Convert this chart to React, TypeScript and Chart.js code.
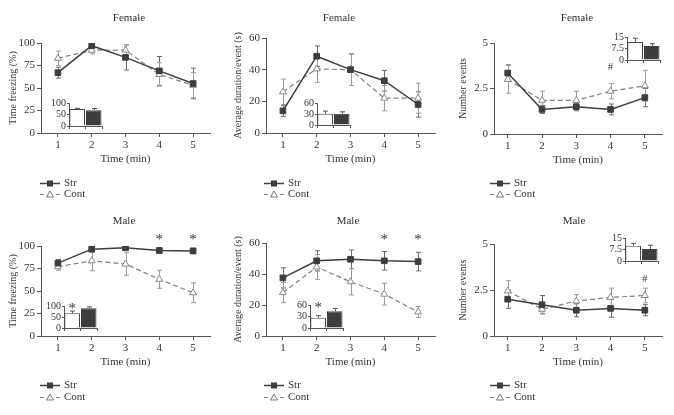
import React, { useEffect, useRef } from "react";
import { Chart, registerables } from "chart.js";
Chart.register(...registerables);

const FONT = "'Liberation Serif', 'Times New Roman', serif";
const TEXT = "#333";
const AXIS = "#555";
const STR_COLOR = "#3d3d3d";
const CONT_COLOR = "#808080";

const minutes = [1, 2, 3, 4, 5];
const groupLabels = ["Cont", "Str"];
const seriesNames = ["Str", "Cont"];
const xTitle = "Time (min)";

// Female – time freezing (%)
const femFreezeStr = [67, 97, 84, 69, 55];
const femFreezeStrErr = [6, 2, 14, 16, 17];
const femFreezeCont = [83, 92, 92, 65, 53];
const femFreezeContErr = [8, 4, 6, 13, 14];
const femFreezeBar = [74, 68];
const femFreezeBarErr = [3, 8];

// Female – average duration/event (s)
const femDurStr = [14, 48.5, 40, 33, 18];
const femDurStrErr = [3.5, 6.5, 10, 6.5, 8];
const femDurCont = [26, 40.5, 40, 22, 22];
const femDurContErr = [8, 8.5, 10, 8, 9.5];
const femDurBar = [31, 31];
const femDurBarErr = [7, 5];

// Female – number events
const femEvStr = [3.35, 1.35, 1.5, 1.35, 2.0];
const femEvStrErr = [0.45, 0.22, 0.22, 0.3, 0.5];
const femEvCont = [3.0, 1.85, 1.85, 2.35, 2.65];
const femEvContErr = [0.76, 0.5, 0.5, 0.42, 0.85];
const femEvBar = [11.7, 9.1];
const femEvBarErr = [2.5, 1.5];

// Male – time freezing (%)
const maleFreezeStr = [81, 96.5, 98, 95, 94.5];
const maleFreezeStrErr = [4, 3, 1.5, 3, 3];
const maleFreezeCont = [77, 83.5, 80, 63, 48];
const maleFreezeContErr = [4, 11, 12.5, 10, 11];
const maleFreezeBar = [67, 90];
const maleFreezeBarErr = [10, 6];

// Male – average duration/event (s)
const maleDurStr = [37.5, 48.5, 49.5, 48.5, 48];
const maleDurStrErr = [6.5, 6.5, 6, 6, 6];
const maleDurCont = [28, 44.5, 35, 27, 15.5];
const maleDurContErr = [6.5, 8, 8.5, 7, 3.5];
const maleDurBar = [27, 44];
const maleDurBarErr = [5, 7];

// Male – number events
const maleEvStr = [2.0, 1.7, 1.4, 1.5, 1.4];
const maleEvStrErr = [0.5, 0.5, 0.35, 0.48, 0.3];
const maleEvCont = [2.45, 1.45, 1.9, 2.1, 2.2];
const maleEvContErr = [0.55, 0.22, 0.35, 0.5, 0.4];
const maleEvBar = [10, 7.8];
const maleEvBarErr = [1.5, 2.5];

type Mark = { x: number; y: number; text: string };

interface PanelCfg {
  title: string; yTitle: string; yMax: number; yStep: number;
  str: number[]; strErr: number[]; cont: number[]; contErr: number[];
  marks: Mark[];
  bar: number[]; barErr: number[]; barMax: number; barStep: number; barMarks: Mark[];
  L: number; T: number; W: number; H: number;
  left: number; right: number; top: number; bottom: number; xMin: number;
  titleX: number; titleY: number; legX: number; legY: number[];
  inset: { x: number; top: number; bottom: number };
}

const panels: PanelCfg[] = [
  {
    title: "Female", yTitle: "Time freezing (%)", yMax: 100, yStep: 25,
    str: femFreezeStr, strErr: femFreezeStrErr, cont: femFreezeCont, contErr: femFreezeContErr,
    marks: [], bar: femFreezeBar, barErr: femFreezeBarErr, barMax: 100, barStep: 50, barMarks: [],
    L: 0, T: 0, W: 225, H: 200, left: 41, right: 210, top: 43, bottom: 133, xMin: 0.5,
    titleX: 129, titleY: 18, legX: 40, legY: [183, 194],
    inset: { x: 69, top: 103, bottom: 126 },
  },
  {
    title: "Female", yTitle: "Average duration/event (s)", yMax: 60, yStep: 20,
    str: femDurStr, strErr: femDurStrErr, cont: femDurCont, contErr: femDurContErr,
    marks: [], bar: femDurBar, barErr: femDurBarErr, barMax: 60, barStep: 30, barMarks: [],
    L: 225, T: 0, W: 225, H: 200, left: 41, right: 210, top: 38, bottom: 133, xMin: 0.5,
    titleX: 114, titleY: 18, legX: 39, legY: [183, 194],
    inset: { x: 317, top: 103, bottom: 125 },
  },
  {
    title: "Female", yTitle: "Number events", yMax: 5, yStep: 2.5,
    str: femEvStr, strErr: femEvStrErr, cont: femEvCont, contErr: femEvContErr,
    marks: [{ x: 4, y: 3.7, text: "#" }], bar: femEvBar, barErr: femEvBarErr, barMax: 15, barStep: 7.5, barMarks: [],
    L: 450, T: 0, W: 224, H: 200, left: 44, right: 212, top: 43, bottom: 134, xMin: 0.6,
    titleX: 127, titleY: 18, legX: 40, legY: [183, 194],
    inset: { x: 627, top: 37, bottom: 60 },
  },
  {
    title: "Male", yTitle: "Time freezing (%)", yMax: 100, yStep: 25,
    str: maleFreezeStr, strErr: maleFreezeStrErr, cont: maleFreezeCont, contErr: maleFreezeContErr,
    marks: [{ x: 4, y: 110, text: "*" }, { x: 5, y: 110, text: "*" }],
    bar: maleFreezeBar, barErr: maleFreezeBarErr, barMax: 100, barStep: 50, barMarks: [{ x: 0, y: 100, text: "*" }],
    L: 0, T: 200, W: 225, H: 215, left: 41, right: 210, top: 46, bottom: 136, xMin: 0.5,
    titleX: 124, titleY: 21, legX: 40, legY: [185, 197],
    inset: { x: 64, top: 306, bottom: 328 },
  },
  {
    title: "Male", yTitle: "Average duration/event (s)", yMax: 60, yStep: 20,
    str: maleDurStr, strErr: maleDurStrErr, cont: maleDurCont, contErr: maleDurContErr,
    marks: [{ x: 4, y: 64, text: "*" }, { x: 5, y: 64, text: "*" }],
    bar: maleDurBar, barErr: maleDurBarErr, barMax: 60, barStep: 30, barMarks: [{ x: 0, y: 60, text: "*" }],
    L: 225, T: 200, W: 225, H: 215, left: 41, right: 210, top: 43, bottom: 136, xMin: 0.5,
    titleX: 123, titleY: 21, legX: 39, legY: [185, 197],
    inset: { x: 310, top: 305, bottom: 328 },
  },
  {
    title: "Male", yTitle: "Number events", yMax: 5, yStep: 2.5,
    str: maleEvStr, strErr: maleEvStrErr, cont: maleEvCont, contErr: maleEvContErr,
    marks: [{ x: 5, y: 3.1, text: "#" }], bar: maleEvBar, barErr: maleEvBarErr, barMax: 15, barStep: 7.5, barMarks: [],
    L: 450, T: 200, W: 224, H: 215, left: 44, right: 212, top: 44, bottom: 136, xMin: 0.6,
    titleX: 124, titleY: 21, legX: 40, legY: [185, 197],
    inset: { x: 625, top: 238, bottom: 261 },
  },
];

function valueOf(v: any): number {
  return typeof v === "number" ? v : v.y;
}

function drawErrors(chart: any, onTop: boolean) {
  const ctx = chart.ctx;
  const yScale = chart.scales.y;
  chart.data.datasets.forEach((ds: any, di: number) => {
    if (!ds.errors || !!ds.errorsOnTop !== onTop) return;
    const meta = chart.getDatasetMeta(di);
    ctx.save();
    ctx.strokeStyle = ds.errorColor || "#666";
    ctx.lineWidth = 1;
    meta.data.forEach((el: any, i: number) => {
      const v = valueOf(ds.data[i]);
      const e = ds.errors[i];
      const yTop = yScale.getPixelForValue(v + e);
      const yBot = ds.errorsUpOnly ? yScale.getPixelForValue(v) : yScale.getPixelForValue(v - e);
      const x = Math.round(el.x) + 0.5;
      const cap = 2.5;
      ctx.beginPath();
      ctx.moveTo(x, yTop);
      ctx.lineTo(x, yBot);
      ctx.moveTo(x - cap, yTop);
      ctx.lineTo(x + cap, yTop);
      if (!ds.errorsUpOnly) {
        ctx.moveTo(x - cap, yBot);
        ctx.lineTo(x + cap, yBot);
      }
      ctx.stroke();
    });
    ctx.restore();
  });
}

const errorBarPlugin = {
  id: "errorBars",
  beforeDatasetsDraw(chart: any) { drawErrors(chart, false); },
  afterDatasetsDraw(chart: any) { drawErrors(chart, true); },
};

function drawMark(ctx: CanvasRenderingContext2D, x: number, y: number, text: string) {
  ctx.save();
  ctx.fillStyle = TEXT;
  ctx.textAlign = "center";
  ctx.textBaseline = "middle";
  if (text === "*") {
    ctx.font = `15px ${FONT}`;
    ctx.fillText(text, x, y + 3);
  } else {
    ctx.font = `11px ${FONT}`;
    ctx.fillText(text, x, y);
  }
  ctx.restore();
}

function makeDecor(c: PanelCfg) {
  return {
    id: "decor",
    afterDraw(chart: any) {
      const ctx: CanvasRenderingContext2D = chart.ctx;
      ctx.save();
      ctx.fillStyle = TEXT;
      ctx.font = `11px ${FONT}`;
      ctx.textAlign = "center";
      ctx.textBaseline = "middle";
      ctx.fillText(c.title, c.titleX, c.titleY);
      ctx.restore();
      c.marks.forEach((m) => {
        drawMark(ctx, chart.scales.x.getPixelForValue(m.x), chart.scales.y.getPixelForValue(m.y), m.text);
      });
      const x0 = c.legX;
      seriesNames.forEach((name, i) => {
        const y = c.legY[i] + 0.5;
        ctx.save();
        if (name === "Str") {
          ctx.strokeStyle = STR_COLOR;
          ctx.lineWidth = 1.5;
          ctx.beginPath();
          ctx.moveTo(x0, y);
          ctx.lineTo(x0 + 20, y);
          ctx.stroke();
          ctx.fillStyle = STR_COLOR;
          ctx.fillRect(x0 + 7, y - 3, 6, 6);
        } else {
          ctx.strokeStyle = CONT_COLOR;
          ctx.lineWidth = 1;
          ctx.beginPath();
          ctx.moveTo(x0, y);
          ctx.lineTo(x0 + 4, y);
          ctx.moveTo(x0 + 16, y);
          ctx.lineTo(x0 + 20, y);
          ctx.stroke();
          ctx.fillStyle = "#fff";
          ctx.beginPath();
          ctx.moveTo(x0 + 10, y - 3.5);
          ctx.lineTo(x0 + 13.5, y + 2.5);
          ctx.lineTo(x0 + 6.5, y + 2.5);
          ctx.closePath();
          ctx.fill();
          ctx.strokeStyle = "#777";
          ctx.stroke();
        }
        ctx.fillStyle = TEXT;
        ctx.font = `11px ${FONT}`;
        ctx.textAlign = "left";
        ctx.textBaseline = "middle";
        ctx.fillText(name, x0 + 24, y);
        ctx.restore();
      });
    },
  };
}

function makeInsetDecor(c: PanelCfg) {
  return {
    id: "insetDecor",
    afterDraw(chart: any) {
      const meta = chart.getDatasetMeta(0);
      c.barMarks.forEach((m) => {
        const el = meta.data[m.x];
        drawMark(chart.ctx, el.x, chart.scales.y.getPixelForValue(m.y), m.text);
      });
    },
  };
}

const X_AXIS_H = 37;

function mainConfig(c: PanelCfg): any {
  return {
    type: "line",
    data: {
      datasets: [
        {
          label: seriesNames[0],
          data: minutes.map((m, i) => ({ x: m, y: c.str[i] })),
          borderColor: STR_COLOR, borderWidth: 1.5,
          pointStyle: "rect", pointRadius: 4,
          pointBackgroundColor: STR_COLOR, pointBorderColor: STR_COLOR, pointBorderWidth: 1,
          errors: c.strErr, errorColor: "#6a6a6a",
        },
        {
          label: seriesNames[1],
          data: minutes.map((m, i) => ({ x: m, y: c.cont[i] })),
          borderColor: CONT_COLOR, borderWidth: 1.2, borderDash: [5, 3],
          pointStyle: "triangle", pointRadius: 4,
          pointBackgroundColor: "#fff", pointBorderColor: "#888", pointBorderWidth: 1,
          errors: c.contErr, errorColor: "#9a9a9a",
        },
      ],
    },
    options: {
      responsive: false,
      animation: false,
      events: [],
      layout: { padding: { left: 0, top: c.top, right: c.W - c.right, bottom: c.H - c.bottom - X_AXIS_H } },
      plugins: { legend: { display: false }, title: { display: false }, tooltip: { enabled: false } },
      scales: {
        x: {
          type: "linear", min: c.xMin, max: 5.5,
          ticks: { color: TEXT, font: { family: FONT, size: 11 }, padding: 2, maxRotation: 0, autoSkip: false },
          afterBuildTicks: (s: any) => { s.ticks = minutes.map((v) => ({ value: v })); },
          grid: { drawOnChartArea: false, tickLength: 4, color: AXIS },
          border: { color: AXIS, width: 1 },
          title: { display: true, text: xTitle, color: TEXT, font: { family: FONT, size: 11 }, padding: { top: 2, bottom: 4 } },
          afterFit: (s: any) => { s.height = X_AXIS_H; },
        },
        y: {
          min: 0, max: c.yMax,
          ticks: { stepSize: c.yStep, color: TEXT, font: { family: FONT, size: 11 }, padding: 2, autoSkip: false },
          grid: { drawOnChartArea: false, tickLength: 4, color: AXIS },
          border: { color: AXIS, width: 1 },
          title: { display: true, text: c.yTitle, color: TEXT, font: { family: FONT, size: 10 }, padding: { top: 7, bottom: 0 } },
          afterFit: (s: any) => { s.width = c.left; },
        },
      },
    },
    plugins: [errorBarPlugin, makeDecor(c)],
  };
}

const INSET_LABEL_W = 26;
const INSET_PAD_TOP = 8;
const INSET_AREA_W = 33;
const INSET_PAD_RIGHT = 4;
const INSET_X_H = 3;
const INSET_PAD_BOTTOM = 6;

function insetConfig(c: PanelCfg, H: number): any {
  const h = c.inset.bottom - c.inset.top;
  return {
    type: "bar",
    data: {
      labels: groupLabels,
      datasets: [
        {
          data: c.bar,
          backgroundColor: ["#ffffff", STR_COLOR],
          borderColor: ["#444", STR_COLOR],
          borderWidth: 1,
          barPercentage: 1,
          categoryPercentage: 0.94,
          errors: c.barErr, errorColor: "#555", errorsUpOnly: true, errorsOnTop: true,
        },
      ],
    },
    options: {
      responsive: false,
      animation: false,
      events: [],
      layout: { padding: { left: 0, top: INSET_PAD_TOP, right: INSET_PAD_RIGHT, bottom: H - INSET_PAD_TOP - h - INSET_X_H } },
      plugins: { legend: { display: false }, title: { display: false }, tooltip: { enabled: false } },
      scales: {
        x: {
          ticks: { display: false },
          grid: { drawOnChartArea: false, tickLength: 3, color: AXIS },
          border: { color: AXIS, width: 1 },
          afterFit: (s: any) => { s.height = INSET_X_H; },
        },
        y: {
          min: 0, max: c.barMax,
          ticks: { stepSize: c.barStep, color: TEXT, font: { family: FONT, size: 10 }, padding: 1, autoSkip: false },
          grid: { drawOnChartArea: false, tickLength: 2, color: AXIS },
          border: { color: AXIS, width: 1 },
          afterFit: (s: any) => { s.width = INSET_LABEL_W; },
        },
      },
    },
    plugins: [errorBarPlugin, makeInsetDecor(c)],
  };
}

function Panel({ c }: { c: PanelCfg }) {
  const mainRef = useRef<HTMLCanvasElement>(null);
  const insetRef = useRef<HTMLCanvasElement>(null);
  const iL = c.inset.x - INSET_LABEL_W;
  const iT = c.inset.top - INSET_PAD_TOP;
  const iW = INSET_LABEL_W + INSET_AREA_W + INSET_PAD_RIGHT;
  const iH = INSET_PAD_TOP + (c.inset.bottom - c.inset.top) + INSET_X_H + INSET_PAD_BOTTOM;
  useEffect(() => {
    const main = new Chart(mainRef.current as HTMLCanvasElement, mainConfig(c));
    const inset = new Chart(insetRef.current as HTMLCanvasElement, insetConfig(c, iH));
    return () => {
      main.destroy();
      inset.destroy();
    };
  }, [c]);
  return (
    <>
      <canvas
        ref={mainRef}
        width={c.W}
        height={c.H}
        style={{ position: "absolute", left: c.L, top: c.T, width: c.W, height: c.H }}
      />
      <canvas
        ref={insetRef}
        width={iW}
        height={iH}
        style={{ position: "absolute", left: iL, top: iT, width: iW, height: iH }}
      />
    </>
  );
}

export default function App() {
  return (
    <div style={{ position: "absolute", left: 0, top: 0, width: 674, height: 415, background: "#fff", overflow: "hidden" }}>
      {panels.map((p, i) => (
        <Panel key={i} c={p} />
      ))}
    </div>
  );
}
